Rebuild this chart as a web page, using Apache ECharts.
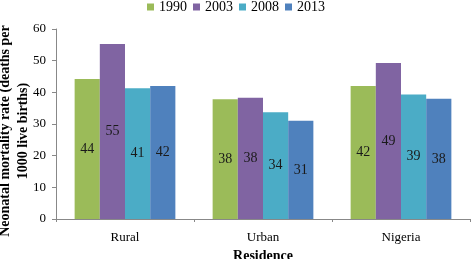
<!DOCTYPE html>
<html>
<head>
<meta charset="utf-8">
<script src="https://cdn.jsdelivr.net/npm/echarts@6/dist/echarts.min.js"></script>
<style>
  html, body { margin: 0; padding: 0; background: #fff; }
  #chart { width: 472px; height: 259px; }
</style>
</head>
<body>
<div id="chart"></div>
<script>
var categories = ['Rural', 'Urban', 'Nigeria'];
var years = ['1990', '2003', '2008', '2013'];
var v1990 = [44.2, 37.8, 42.0];
var v2003 = [55.3, 38.3, 49.3];
var v2008 = [41.3, 33.7, 39.3];
var v2013 = [42.0, 31.0, 38.0];
var labels1990 = ['44', '38', '42'];
var labels2003 = ['55', '38', '49'];
var labels2008 = ['41', '34', '39'];
var labels2013 = ['42', '31', '38'];
var colors = ['#9BBB59', '#8064A2', '#4BACC6', '#4F81BD'];
var yTitle = 'Neonatal mortality rate (deaths per\n1000 live births)';

var font = 'Liberation Serif, Times New Roman, serif';

function makeSeries(name, values, labels, color) {
    return {
        name: name,
        type: 'bar',
        data: values,
        barGap: 0,
        barCategoryGap: '27%',
        itemStyle: { color: color },
        label: {
            show: true,
            position: 'inside',
            fontFamily: font,
            fontSize: 14,
            color: '#1a1a1a',
            formatter: function (p) { return labels[p.dataIndex]; }
        }
    };
}

var chart = echarts.init(document.getElementById('chart'));
chart.setOption({
    animation: false,
    color: colors,
    legend: {
        top: -5,
        left: 'center',
        itemWidth: 7,
        itemHeight: 7,
        itemGap: 6,
        icon: 'rect',
        textStyle: { fontFamily: font, fontSize: 14, color: '#000' },
        data: years
    },
    // y axis title, placed by hand (it sits a little below the plot middle)
    graphic: [{
        type: 'text',
        x: 14,
        y: 131,
        rotation: Math.PI / 2,
        style: {
            text: yTitle,
            fontFamily: font,
            fontSize: 14,
            fontWeight: 'bold',
            fill: '#000',
            lineHeight: 18,
            align: 'center',
            verticalAlign: 'middle'
        }
    }],
    grid: { left: 56, right: 2, top: 29, bottom: 40, containLabel: false, outerBoundsMode: 'none' },
    xAxis: {
        type: 'category',
        data: categories,
        name: 'Residence',
        nameLocation: 'middle',
        nameGap: 28,
        nameTextStyle: { fontFamily: font, fontSize: 14, fontWeight: 'bold', color: '#000' },
        axisLine: { lineStyle: { color: '#888' } },
        axisTick: { show: true, length: 3, lineStyle: { color: '#888' } },
        axisLabel: { fontFamily: font, fontSize: 13, color: '#000', margin: 12 }
    },
    yAxis: {
        type: 'value',
        min: 0,
        max: 60,
        interval: 10,
        splitLine: { show: false },
        axisLine: { show: true, lineStyle: { color: '#888' } },
        axisTick: { show: true, length: 4, lineStyle: { color: '#888' } },
        axisLabel: { fontFamily: font, fontSize: 13, color: '#000', margin: 10 }
    },
    series: [
        makeSeries(years[0], v1990, labels1990, colors[0]),
        makeSeries(years[1], v2003, labels2003, colors[1]),
        makeSeries(years[2], v2008, labels2008, colors[2]),
        makeSeries(years[3], v2013, labels2013, colors[3])
    ]
});
</script>
</body>
</html>
